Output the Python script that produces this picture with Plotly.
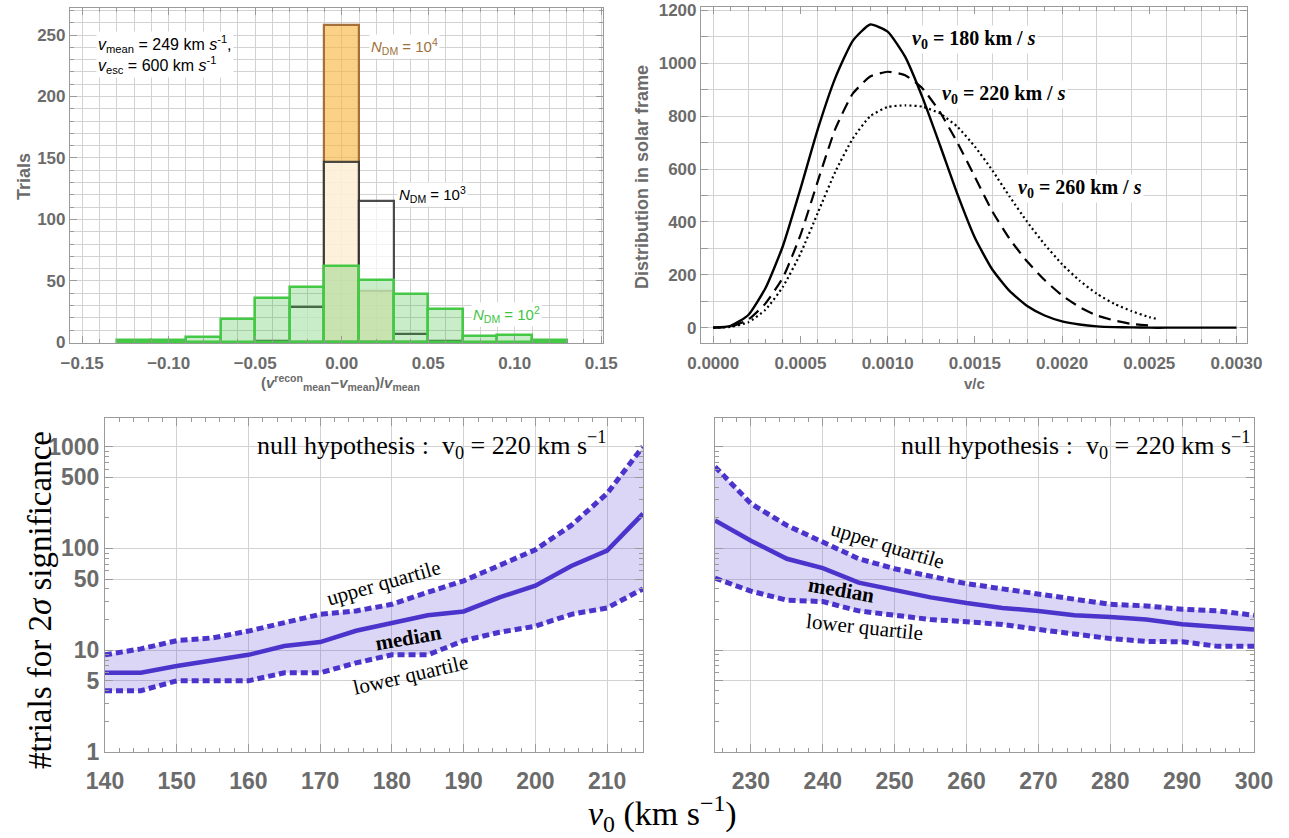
import plotly.graph_objects as go

W, H = 1289, 838

# ---------------- top-left histogram data ----------------
bin_centers = [-0.12, -0.10, -0.08, -0.06, -0.04, -0.02, 0.00, 0.02, 0.04, 0.06, 0.08, 0.10, 0.12]
bin_width = 0.02
trials_n1e4 = [0, 0, 0, 0, 0, 0, 258, 42, 0, 0, 0, 0, 0]
trials_n1e3 = [0, 0, 0, 0, 1, 29, 147, 115, 7, 1, 0, 0, 0]
trials_n1e2 = [2, 2, 4, 19, 36, 45, 62, 51, 39, 27, 5, 6, 2]

# ---------------- top-right speed distributions ----------------
v_c = [0.0000, 0.0001, 0.0002, 0.0003, 0.0004, 0.0005, 0.0006, 0.0007, 0.0008, 0.0009,
       0.0010, 0.0011, 0.0012, 0.0013, 0.0014, 0.0015, 0.0016, 0.0017, 0.0018, 0.0019,
       0.0020, 0.0021, 0.0022, 0.0023, 0.0024, 0.0025, 0.0026, 0.0027, 0.0028, 0.0029, 0.0030]
dist_v180 = [0, 7, 47, 150, 310, 525, 752, 945, 1085, 1147,
             1120, 1025, 870, 690, 505, 340, 220, 138, 82, 46,
             24, 12, 5, 2, 1, 0, 0, 0, 0, 0, 0]
v_c_220 = v_c[:26]
dist_v220 = [0, 4, 30, 92, 190, 350, 555, 752, 885, 950,
             968, 955, 905, 815, 700, 570, 440, 335, 250, 180,
             122, 78, 46, 27, 14, 8]
v_c_260 = v_c[:26] + [0.00255]
dist_v260 = [0, 3, 20, 68, 155, 280, 435, 590, 715, 800,
             835, 841, 836, 810, 760, 685, 595, 495, 400, 315,
             240, 178, 128, 90, 62, 40, 32]

# ---------------- bottom panels ----------------
v0_left = [140, 145, 150, 155, 160, 165, 170, 175, 180, 185, 190, 195, 200, 205, 210, 215]
median_left = [6, 6, 7, 8, 9, 11, 12, 15.5, 18.5, 22, 24, 33, 43, 67, 95, 219]
upper_left = [9, 10.3, 12.4, 13.2, 15.4, 18.6, 22.5, 24.3, 28.2, 37, 48, 68, 97, 168, 346, 1000]
lower_left = [4, 4, 5, 5, 5, 6, 6, 7.5, 9, 9, 12.4, 15, 17.2, 22.5, 26, 40]

v0_right = [225, 230, 235, 240, 245, 250, 255, 260, 265, 270, 275, 280, 285, 290, 295, 300]
median_right = [188, 119, 79, 64, 46, 39, 33, 29, 26, 24.3, 22, 21.2, 20, 18, 17, 16]
upper_right = [634, 275, 168, 115, 79, 63, 54, 45, 40, 35.5, 31, 28.2, 27.2, 25.2, 24.3, 22]
lower_right = [51, 38, 31, 30, 24.3, 22, 20, 19, 17.9, 16, 14.3, 13, 12.2, 12.1, 10.9, 10.9]

# ---------------- styles ----------------
GRID = "#d2d2d2"
FRAME = "#9a9a9a"
TICKFONT_S = dict(family="Liberation Sans", size=17, color="#6b6b6b", weight="bold")
TICKFONT_L = dict(family="Liberation Sans", size=23, color="#6b6b6b", weight="bold")
SERIF = "Liberation Serif"
PURPLE = "#4a34cc"
FILL = "rgba(90,70,210,0.22)"


def px_x(p):
    return p / W


def px_y(p):
    return 1 - p / H


fig = go.Figure()

def nz(xs, ys):
    pairs = [(x, y) for x, y in zip(xs, ys) if y > 0]
    return [p[0] for p in pairs], [p[1] for p in pairs]

x4, y4 = nz(bin_centers, trials_n1e4)
fig.add_trace(go.Bar(x=x4, y=y4, width=bin_width, xaxis="x", yaxis="y",
                     marker=dict(color="rgba(248,180,62,0.62)",
                                 line=dict(color="rgba(160,105,50,0.95)", width=2.2)),
                     showlegend=False))
x3, y3 = nz(bin_centers, trials_n1e3)
fig.add_trace(go.Bar(x=x3, y=y3, width=bin_width, xaxis="x", yaxis="y",
                     marker=dict(color="rgba(255,255,255,0.7)",
                                 line=dict(color="rgba(45,45,45,0.85)", width=2.2)),
                     showlegend=False))
x2, y2 = nz(bin_centers, trials_n1e2)
fig.add_trace(go.Bar(x=x2, y=y2, width=bin_width, xaxis="x", yaxis="y",
                     marker=dict(color="rgba(60,190,60,0.28)",
                                 line=dict(color="#45c845", width=2.6)),
                     showlegend=False))

fig.add_trace(go.Scatter(x=v_c, y=dist_v180, mode="lines", xaxis="x2", yaxis="y2",
                         line=dict(color="black", width=2.4, shape="spline", smoothing=0.5),
                         showlegend=False))
fig.add_trace(go.Scatter(x=v_c_220, y=dist_v220, mode="lines", xaxis="x2", yaxis="y2",
                         line=dict(color="black", width=2.2, dash="12px,7px", shape="spline", smoothing=0.5),
                         showlegend=False))
fig.add_trace(go.Scatter(x=v_c_260, y=dist_v260, mode="lines", xaxis="x2", yaxis="y2",
                         line=dict(color="black", width=2.2, dash="2px,3px", shape="spline", smoothing=0.5),
                         showlegend=False))
fig.add_trace(go.Scatter(x=[v_c[0]], y=[dist_v180[0]], mode="markers", xaxis="x5", yaxis="y2",
                         marker=dict(opacity=0), hoverinfo="skip", showlegend=False))

for xs, lo, up, med, xa, ya in [(v0_left, lower_left, upper_left, median_left, "x3", "y3"),
                                (v0_right, lower_right, upper_right, median_right, "x4", "y4")]:
    fig.add_trace(go.Scatter(x=xs, y=lo, mode="lines", xaxis=xa, yaxis=ya,
                             line=dict(color=PURPLE, width=5, dash="7px,4px"), showlegend=False))
    fig.add_trace(go.Scatter(x=xs, y=up, mode="lines", xaxis=xa, yaxis=ya, fill="tonexty",
                             fillcolor=FILL,
                             line=dict(color=PURPLE, width=5, dash="7px,4px"), showlegend=False))
    fig.add_trace(go.Scatter(x=xs, y=med, mode="lines", xaxis=xa, yaxis=ya,
                             line=dict(color=PURPLE, width=4.5), showlegend=False))

common = dict(showline=True, linecolor=FRAME, linewidth=1.2, mirror="allticks",
              ticks="inside", tickcolor=FRAME, zeroline=False, showgrid=True,
              gridcolor=GRID, gridwidth=1, automargin=False)

log_minor = [2, 3, 4, 6, 7, 8, 9, 20, 30, 40, 60, 70, 80, 90, 200, 300, 400, 600, 700, 800, 900]

fig.update_layout(
    template="none",
    width=W, height=H, margin=dict(l=0, r=0, t=0, b=0, pad=0),
    paper_bgcolor="white", plot_bgcolor="white", barmode="overlay", bargap=0,
    xaxis=dict(domain=[px_x(70), px_x(603)], anchor="y", range=[-0.157, 0.151],
               tickvals=[-0.15, -0.10, -0.05, 0.0, 0.05, 0.10, 0.15], tickformat=".2f",
               ticklen=7, tickfont=TICKFONT_S, ticklabelstandoff=4,
               minor=dict(dtick=0.01, tick0=0, ticks="inside", ticklen=4, tickcolor=FRAME,
                          showgrid=True, gridcolor=GRID),
               **common),
    yaxis=dict(domain=[px_y(343), px_y(8)], anchor="x", range=[-0.5, 272],
               tickvals=[0, 50, 100, 150, 200, 250], ticklen=7, tickfont=TICKFONT_S,
               minor=dict(dtick=10, tick0=0, ticks="inside", ticklen=4, tickcolor=FRAME,
                          showgrid=True, gridcolor=GRID),
               **common),
    xaxis2=dict(domain=[px_x(701), px_x(1247)], anchor="y2", range=[-0.00007, 0.00306],
                tickvals=[0, 0.0005, 0.0010, 0.0015, 0.0020, 0.0025, 0.0030], tickformat=".4f",
                ticklen=7, tickfont=TICKFONT_S, ticklabelstandoff=4,
                minor=dict(dtick=0.0001, tick0=0, ticks="inside", ticklen=4, tickcolor=FRAME,
                           showgrid=False),
                **{**common, "showgrid": False}),
    xaxis5=dict(domain=[px_x(701), px_x(1247)], anchor="y2", overlaying="x2",
                range=[-0.00007, 0.00306], dtick=0.0002, tick0=0, showgrid=True,
                gridcolor=GRID, showticklabels=False, ticks="", showline=False, zeroline=False,
                automargin=False),
    yaxis2=dict(domain=[px_y(343), px_y(7)], anchor="x2", range=[-58, 1213],
                tickvals=[0, 200, 400, 600, 800, 1000, 1200], ticklen=7, tickfont=TICKFONT_S,
                minor=dict(dtick=100, tick0=0, ticks="inside", ticklen=4, tickcolor=FRAME,
                           showgrid=True, gridcolor=GRID),
                **common),
    xaxis3=dict(domain=[px_x(105), px_x(643)], anchor="y3", range=[140, 215],
                tickvals=[140, 150, 160, 170, 180, 190, 200, 210], ticklen=8,
                tickfont=TICKFONT_L, ticklabelstandoff=8,
                minor=dict(dtick=2, tick0=140, ticks="inside", ticklen=4, tickcolor=FRAME,
                           showgrid=False),
                **common),
    yaxis3=dict(domain=[px_y(752), px_y(418)], anchor="x3", type="log", range=[0, 3.28],
                tickvals=[1, 5, 10, 50, 100, 500, 1000], ticktext=["1", "5", "10", "50", "100", "500", "1000"],
                ticklen=8, tickfont=TICKFONT_L,
                minor=dict(tickvals=log_minor, ticks="inside", ticklen=4, tickcolor=FRAME,
                           showgrid=False),
                **common),
    xaxis4=dict(domain=[px_x(715), px_x(1254)], anchor="y4", range=[225, 300],
                tickvals=[230, 240, 250, 260, 270, 280, 290, 300], ticklen=8,
                tickfont=TICKFONT_L, ticklabelstandoff=8,
                minor=dict(dtick=2, tick0=224, ticks="inside", ticklen=4, tickcolor=FRAME,
                           showgrid=False),
                **common),
    yaxis4=dict(domain=[px_y(752), px_y(418)], anchor="x4", type="log", range=[0, 3.28],
                tickvals=[1, 5, 10, 50, 100, 500, 1000], showticklabels=False, ticklen=8,
                minor=dict(tickvals=log_minor, ticks="inside", ticklen=4, tickcolor=FRAME,
                           showgrid=False),
                **common),
)

ann = []
sans = "Liberation Sans"


def A(text, x, y, size, color="black", family=sans, angle=0, xanchor="center", bg=None, align="center"):
    d = dict(text=text, x=px_x(x), y=px_y(y), xref="paper", yref="paper", showarrow=False,
             font=dict(family=family, size=size, color=color), textangle=angle,
             xanchor=xanchor, yanchor="middle", align=align)
    if bg:
        d["bgcolor"] = bg
    ann.append(d)

A("<b>Trials</b>", 24, 177, 18, color="#6b6b6b", angle=-90)
A("<b>(<i>v</i><sup>recon</sup><sub>mean</sub>−<i>v</i><sub>mean</sub>)/<i>v</i><sub>mean</sub></b>",
  340, 382, 15, color="#6b6b6b")
A("<i>v</i><sub>mean</sub> = 249 km <i>s</i><sup>-1</sup>,<br><i>v</i><sub>esc</sub> = 600 km <i>s</i><sup>-1</sup>",
  96, 55, 16, xanchor="left", bg="white", align="left")
A("<i>N</i><sub>DM</sub> = 10<sup>4</sup>", 404, 46, 15, color="#a0703a", bg="white")
A("<i>N</i><sub>DM</sub> = 10<sup>3</sup>", 432, 194, 15, color="black", bg="white")
A("<i>N</i><sub>DM</sub> = 10<sup>2</sup>", 506, 314, 15, color="#3fc43f", bg="white")

A("<b>Distribution in solar frame</b>", 642, 177, 18, color="#6b6b6b", angle=-90)
A("<b>v/c</b>", 975, 383, 15, color="#6b6b6b")
A("<b><i>v</i><sub>0</sub> = 180 km / <i>s</i></b>", 974, 39, 20, family=SERIF, bg="white")
A("<b><i>v</i><sub>0</sub> = 220 km / <i>s</i></b>", 1004, 94, 20, family=SERIF, bg="white")
A("<b><i>v</i><sub>0</sub> = 260 km / <i>s</i></b>", 1080, 189, 20, family=SERIF, bg="white")

A("null hypothesis :  v<sub>0</sub> = 220 km s<sup>−1</sup>", 608, 445, 26, family=SERIF, xanchor="right")
A("null hypothesis :  v<sub>0</sub> = 220 km s<sup>−1</sup>", 1252, 445, 26, family=SERIF, xanchor="right")
A("upper quartile", 383, 583, 21, family=SERIF, angle=-16)
A("<b>median</b>", 408, 638, 21, family=SERIF, angle=-10)
A("lower quartile", 410, 675, 21, family=SERIF, angle=-13)
A("upper quartile", 887, 545, 21, family=SERIF, angle=17)
A("<b>median</b>", 841, 590, 21, family=SERIF, angle=10)
A("lower quartile", 864, 627, 21, family=SERIF, angle=6)
A("#trials for 2<i>σ</i> significance", 40, 600, 33, family=SERIF, angle=-90)
A("<i>v</i><sub>0</sub> (km s<sup>−1</sup>)", 662, 813, 34, family=SERIF)

fig.update_layout(annotations=ann)
fig.write_html("out.html", config={"displayModeBar": False},
               post_script="document.body.style.margin='0px';document.body.style.overflow='hidden';")
